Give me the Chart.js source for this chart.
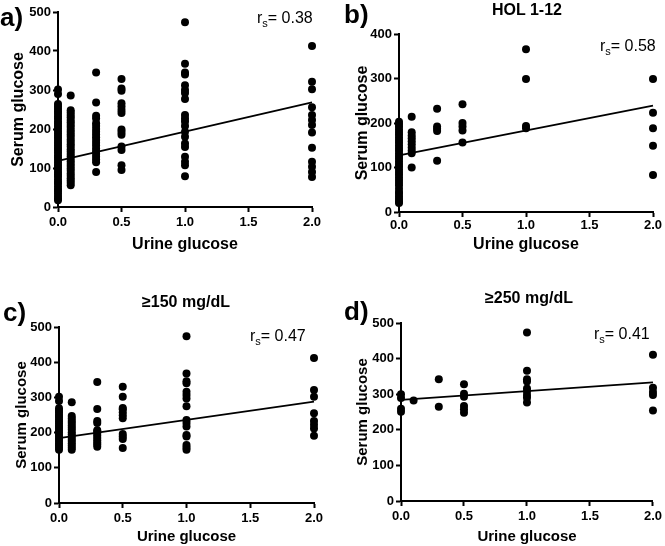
<!DOCTYPE html>
<html>
<head>
<meta charset="utf-8">
<script src="https://cdn.jsdelivr.net/npm/chart.js@4.4.1/dist/chart.umd.min.js"></script>
<style>
  body { margin: 0; background: #fff; }
  #wrap { position: relative; width: 665px; height: 546px; overflow: hidden; font-family: "Liberation Sans", Arial, sans-serif; color: #000; }
  .panel { position: absolute; }
  .txt { position: absolute; white-space: nowrap; }
  .letter { font-size: 26px; line-height: 26px; font-weight: bold; }
  .head { font-size: 16px; line-height: 16px; font-weight: bold; width: 200px; text-align: center; }
  .rs { font-size: 16px; line-height: 16px; }
  .rs span { font-size: 11px; position: relative; top: 4px; }
</style>
</head>
<body>
<div id="wrap">
  <div class="panel" style="left:0;top:0;width:330px;height:260px"><canvas id="chartA"></canvas></div>
  <div class="panel" style="left:330px;top:0;width:335px;height:260px"><canvas id="chartB"></canvas></div>
  <div class="panel" style="left:0;top:270px;width:330px;height:276px"><canvas id="chartC"></canvas></div>
  <div class="panel" style="left:330px;top:270px;width:335px;height:276px"><canvas id="chartD"></canvas></div>

  <div class="txt letter" style="left:0;top:4px">a)</div>
  <div class="txt letter" style="left:344px;top:1px">b)</div>
  <div class="txt letter" style="left:3px;top:299px">c)</div>
  <div class="txt letter" style="left:344px;top:298px">d)</div>

  <div class="txt head" style="left:427px;top:2px">HOL 1-12</div>
  <div class="txt head" style="left:86px;top:294px">≥150 mg/dL</div>
  <div class="txt head" style="left:429px;top:290px">≥250 mg/dL</div>

  <div class="txt rs" style="left:257px;top:10px">r<span>s</span>= 0.38</div>
  <div class="txt rs" style="left:600px;top:38px">r<span>s</span>= 0.58</div>
  <div class="txt rs" style="left:250px;top:328px">r<span>s</span>= 0.47</div>
  <div class="txt rs" style="left:594px;top:326px">r<span>s</span>= 0.41</div>
</div>
<script>
  // urine glucose levels (x), one serum list per level
  const urineLevels = [0, 0.1, 0.3, 0.5, 1.0, 2.0];

  // a) all samples
  const serumA = [
    [17, 22, 28, 35, 41, 46, 53, 60, 65, 71, 78, 84, 90, 97, 102, 108, 115, 121, 127, 133, 140, 146, 151, 158, 164, 170, 177, 183, 189, 195, 202, 208, 214, 220, 227, 233, 239, 245, 251, 258, 264, 290, 301],
    [56, 62, 68, 74, 80, 86, 93, 99, 105, 111, 117, 124, 130, 136, 142, 148, 155, 161, 167, 173, 180, 186, 192, 198, 205, 211, 217, 223, 230, 236, 242, 248, 286],
    [90, 115, 122, 129, 136, 143, 150, 158, 165, 172, 179, 186, 193, 200, 208, 215, 227, 234, 268, 345],
    [95, 107, 146, 155, 185, 192, 199, 241, 249, 258, 266, 298, 304, 328],
    [79, 107, 116, 129, 154, 163, 180, 193, 208, 219, 227, 236, 277, 292, 300, 312, 340, 345, 367, 474],
    [77, 90, 103, 116, 152, 191, 210, 223, 236, 256, 302, 321, 413]
  ];
  // b) HOL 1-12
  const serumB = [
    [20, 24, 29, 35, 41, 45, 52, 60, 66, 72, 78, 84, 90, 96, 102, 108, 114, 120, 126, 132, 138, 144, 150, 156, 162, 168, 174, 180, 186, 192, 198, 203],
    [100, 132, 138, 145, 152, 159, 166, 172, 179, 214],
    [115, 182, 187, 192, 232],
    [156, 183, 192, 200, 242],
    [188, 193, 299, 366],
    [83, 149, 188, 223, 299]
  ];
  // c) >=150 mg/dL
  const serumC = [
    [151, 157, 163, 169, 176, 182, 188, 194, 201, 207, 213, 219, 226, 232, 238, 244, 250, 257, 263, 269, 290, 302],
    [151, 157, 163, 170, 176, 182, 189, 195, 201, 208, 214, 220, 227, 233, 240, 247, 286],
    [160, 166, 172, 178, 185, 191, 197, 204, 207, 227, 233, 267, 344],
    [156, 182, 189, 196, 241, 249, 258, 266, 270, 302, 330],
    [151, 158, 165, 189, 193, 217, 227, 236, 275, 297, 307, 316, 340, 346, 368, 474],
    [191, 212, 222, 233, 255, 302, 321, 412]
  ];
  // d) >=250 mg/dL
  const serumD = [
    [251, 259, 289, 300],
    [282],
    [265, 342],
    [248, 258, 267, 293, 301, 328],
    [277, 290, 298, 308, 316, 336, 342, 366, 473],
    [254, 298, 306, 318, 411]
  ];

  // regression line ends (x = 0 and x = 2)
  const fitX = [0, 2];
  const fitA = [118, 268];
  const fitB = [127, 239];
  const fitC = [184, 288];
  const fitD = [284, 333];

  const xTicks = [0, 0.5, 1.0, 1.5, 2.0];
  const FONT = '"Liberation Sans", Arial, sans-serif';

  function toPoints(cols) {
    const pts = [];
    cols.forEach((ys, i) => ys.forEach(y => pts.push({ x: urineLevels[i], y: y })));
    return pts;
  }

  function drawPanel(id, cols, fit, yMax, lay) {
    const tickFont = { family: FONT, size: lay.tick, weight: 'bold' };
    const titleFont = { family: FONT, size: lay.title, weight: 'bold' };
    new Chart(document.getElementById(id), {
      type: 'scatter',
      data: {
        datasets: [{
          data: toPoints(cols),
          backgroundColor: '#000',
          borderWidth: 0,
          pointRadius: 4,
          clip: false
        }, {
          data: fitX.map((x, i) => ({ x: x, y: fit[i] })),
          showLine: true,
          borderColor: '#000',
          borderWidth: 1.8,
          pointRadius: 0,
          clip: false
        }]
      },
      options: {
        responsive: true,
        maintainAspectRatio: false,
        animation: false,
        layout: { padding: { left: 0, top: lay.top, right: lay.right, bottom: 0 } },
        plugins: { legend: { display: false }, tooltip: { enabled: false } },
        scales: {
          x: {
            type: 'linear', min: 0, max: 2,
            afterBuildTicks: s => { s.ticks = xTicks.map(v => ({ value: v })); },
            ticks: { color: '#000', font: tickFont, padding: lay.xPad, maxRotation: 0, callback: v => v.toFixed(1) },
            grid: { drawOnChartArea: false, tickLength: 5, tickWidth: 2, tickColor: '#000' },
            border: { color: '#000', width: 2 },
            title: { display: true, text: 'Urine glucose', color: '#000', font: titleFont, padding: { top: 0, bottom: lay.xTitle } },
            afterFit: s => { s.height = lay.xH; }
          },
          y: {
            type: 'linear', min: 0, max: yMax,
            ticks: { stepSize: 100, color: '#000', font: tickFont, padding: 2 },
            grid: { drawOnChartArea: false, tickLength: 5, tickWidth: 2, tickColor: '#000' },
            border: { color: '#000', width: 2 },
            title: { display: true, text: 'Serum glucose', color: '#000', font: titleFont, padding: { top: lay.yTitle, bottom: 0 } },
            afterFit: s => { s.width = lay.yW; }
          }
        }
      }
    });
  }

  drawPanel('chartA', serumA, fitA, 500, { top: 12, right: 18, yW: 58, xH: 53, tick: 13, title: 16, xPad: 3, xTitle: 6, yTitle: 9.4 });
  drawPanel('chartB', serumB, fitB, 400, { top: 34, right: 12, yW: 69, xH: 48, tick: 13, title: 16, xPad: 1, xTitle: 6, yTitle: 23.4 });
  drawPanel('chartC', serumC, fitC, 500, { top: 57, right: 16, yW: 59, xH: 43, tick: 13, title: 15, xPad: 3, xTitle: 0, yTitle: 13 });
  drawPanel('chartD', serumD, fitD, 500, { top: 53, right: 10, yW: 71, xH: 45, tick: 13, title: 15, xPad: 3, xTitle: 0, yTitle: 24 });
</script>
</body>
</html>
